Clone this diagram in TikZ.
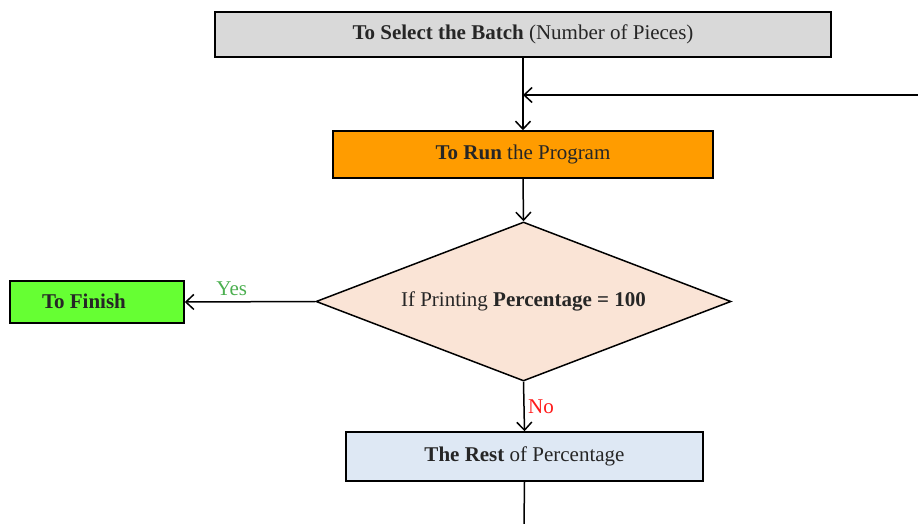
\documentclass[tikz,border=0pt]{standalone}
\usepackage{fontspec}
\setmainfont{Liberation Serif}
\usetikzlibrary{shapes.geometric,arrows.meta}
\definecolor{txt}{HTML}{262626}
\definecolor{batchfill}{HTML}{D9D9D9}
\definecolor{runfill}{HTML}{FF9C00}
\definecolor{decfill}{HTML}{FAE4D6}
\definecolor{finfill}{HTML}{66FF33}
\definecolor{restfill}{HTML}{DEE8F4}
\definecolor{yesc}{HTML}{4CAF50}
\definecolor{noc}{HTML}{FF1A1A}
\begin{document}
\begin{tikzpicture}[x=1pt,y=-1pt,
  lbl/.style={font=\fontsize{21}{24}\selectfont},
  box/.style={draw=black,line width=1.5pt,rectangle,inner sep=0pt,text=txt,lbl},
  conn/.style={draw=black,line width=1.5pt,-{Straight Barb[length=8pt,width=15pt,line width=1.5pt]}},
  plain/.style={draw=black,line width=1.5pt}]
\useasboundingbox (0,0) rectangle (918,524);
\node[box,fill=batchfill,minimum width=616pt,minimum height=45pt] (batch) at (523,34.5) {\textbf{To Select the Batch} (Number of Pieces)};
\node[box,fill=runfill,minimum width=380pt,minimum height=47pt] (run) at (523,154.5) {\textbf{To Run} the Program};
\node[draw=black,line width=1.5pt,diamond,aspect=2.61,fill=decfill,inner sep=0pt,minimum width=415pt,minimum height=159pt,text=txt,lbl] (dec) at (523.5,301.5) {If Printing \textbf{Percentage = 100}};
\node[box,fill=finfill,minimum width=174pt,minimum height=42pt] (fin) at (97,302) {};
\node[text=txt,font={\fontsize{21}{24}\selectfont\bfseries}] (fintxt) at (84,301) {To Finish};
\node[box,fill=restfill,minimum width=357pt,minimum height=49pt] (rest) at (524.5,456.5) {\textbf{The Rest} of Percentage};
\coordinate (rin) at (918,95);
\coordinate (join) at (523,95);
\coordinate (bot) at (524,524);
\draw[conn] (batch.south) -- (run.north);
\draw[conn] (rin) -- (join);
\draw[conn] (run.south) -- (dec.north);
\draw[conn] (dec.west) -- (fin.east) node[pos=0.64,above=2pt,text=yesc,lbl] (yes) {Yes};
\draw[conn] (dec.south) -- (rest.north) node[midway,right=0pt,text=noc,lbl] (no) {No};
\draw[plain] (rest.south) -- (bot);
\end{tikzpicture}
\end{document}
